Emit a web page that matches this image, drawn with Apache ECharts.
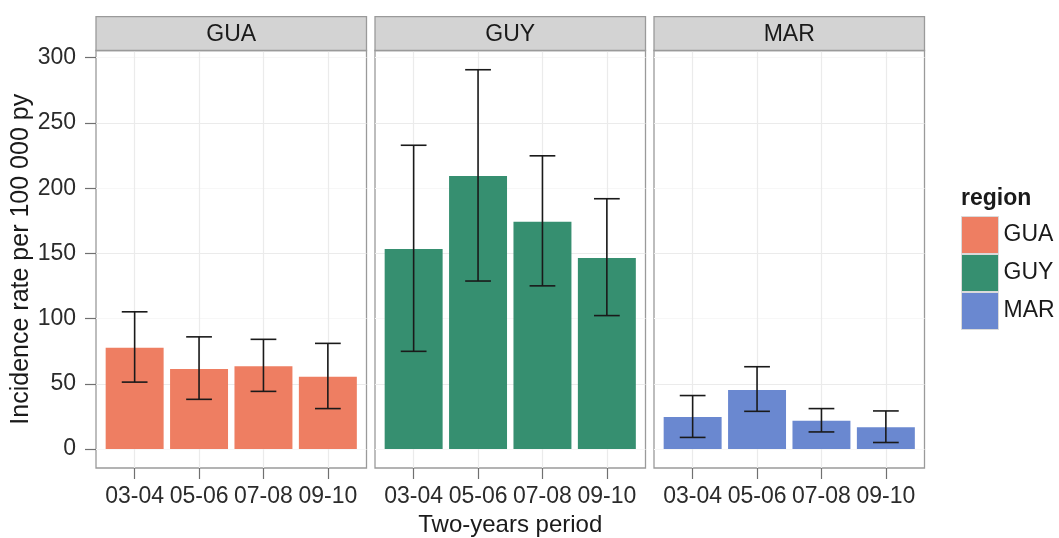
<!DOCTYPE html>
<html><head><meta charset="utf-8">
<script src="https://cdn.jsdelivr.net/npm/echarts@6/dist/echarts.min.js"></script>
<style>html,body{margin:0;padding:0;background:#fff}#c{width:1059px;height:538px}</style>
</head><body><div id="c"></div>
<script>
// ---- data ----
const periods = ['03-04', '05-06', '07-08', '09-10'];
const regions = ['GUA', 'GUY', 'MAR'];
const guaRate = [77.6, 61.3, 63.4, 55.5];
const guaLow  = [51.3, 38.1, 44.2, 31.0];
const guaHigh = [105.2, 86.0, 84.1, 81.0];
const guyRate = [153.3, 209.3, 174.3, 146.4];
const guyLow  = [74.9, 128.8, 125.1, 102.3];
const guyHigh = [232.9, 290.8, 224.8, 191.9];
const marRate = [24.5, 45.2, 21.6, 16.6];
const marLow  = [8.9, 28.9, 13.1, 5.0];
const marHigh = [41.0, 63.1, 31.0, 29.2];
const yTicks = [0, 50, 100, 150, 200, 250, 300];
const xPos = [1, 2, 3, 4];
const regionColors = ['#EE7E62', '#368F70', '#6A88D0'];

const rates = [guaRate, guyRate, marRate];
const lows = [guaLow, guyLow, marLow];
const highs = [guaHigh, guyHigh, marHigh];

const FONT = 'Liberation Sans';
const panelLeft = [96, 375, 654], panelW = 270.5, panelTop = 50.5, panelH = 417.5;
const stripTop = 16.7;

const chart = echarts.init(document.getElementById('c'));

const grids = regions.map((r, i) => ({
  left: panelLeft[i], top: panelTop, width: panelW, height: panelH,
  containLabel: false, outerBoundsMode: 'none',
  show: true, borderColor: '#9A9A9A', borderWidth: 1.3, backgroundColor: '#fff'
}));

const xAxes = regions.map((r, i) => ({
  type: 'value', gridIndex: i, min: 0.4, max: 4.6, minInterval: 1, maxInterval: 1,
  position: 'bottom',
  axisLine: { show: false, onZero: false },
  axisTick: { show: true, inside: false, customValues: xPos, length: 11, lineStyle: { color: '#707070', width: 1.2 } },
  axisLabel: { customValues: xPos, formatter: v => periods[Math.round(v) - 1] || '',
    fontSize: 23, color: '#2b2b2b', fontFamily: FONT, margin: 17 },
  splitLine: { show: true, lineStyle: { color: '#EBEBEB', width: 1.2 } },
  name: i === 1 ? 'Two-years period' : '', nameLocation: 'middle', nameGap: 43,
  nameTextStyle: { fontSize: 24, color: '#1a1a1a', fontFamily: FONT }
}));

const yAxes = regions.map((r, i) => ({
  type: 'value', gridIndex: i, min: -14.55, max: 305.55, minInterval: 25, maxInterval: 25,
  position: 'left',
  axisLine: { show: false, onZero: false },
  axisTick: { show: i === 0, inside: false, customValues: yTicks, length: 11, lineStyle: { color: '#707070', width: 1.2 } },
  axisLabel: { show: i === 0, customValues: yTicks, formatter: v => String(v),
    fontSize: 23, color: '#2b2b2b', fontFamily: FONT, margin: 20 },
  splitLine: { show: true, lineStyle: { color: ['#F7F7F7', '#EBEBEB'], width: 1.2 } },
  name: i === 0 ? 'Incidence rate per 100 000 py' : '', nameLocation: 'middle', nameGap: 59,
  nameTextStyle: { fontSize: 25, color: '#1a1a1a', fontFamily: FONT }
}));

const series = [];
regions.forEach((r, i) => {
  series.push({
    type: 'bar', name: r, xAxisIndex: i, yAxisIndex: i, barWidth: '90%',
    data: xPos.map((x, j) => [x, rates[i][j]]),
    itemStyle: { color: regionColors[i] }, z: 2
  });
  series.push({
    type: 'custom', name: r + ' CI', xAxisIndex: i, yAxisIndex: i, z: 3,
    data: xPos.map((x, j) => [x, lows[i][j], highs[i][j]]),
    encode: { x: 0, y: [1, 2] },
    renderItem: (params, api) => {
      const x = api.value(0), lo = api.value(1), hi = api.value(2);
      const pt = api.coord([x, hi]), pb = api.coord([x, lo]);
      const half = api.size([0.2, 0])[0];
      const st = { stroke: '#1a1a1a', lineWidth: 1.6 };
      return { type: 'group', children: [
        { type: 'line', shape: { x1: pt[0], y1: pt[1], x2: pb[0], y2: pb[1] }, style: st },
        { type: 'line', shape: { x1: pt[0] - half, y1: pt[1], x2: pt[0] + half, y2: pt[1] }, style: st },
        { type: 'line', shape: { x1: pb[0] - half, y1: pb[1], x2: pb[0] + half, y2: pb[1] }, style: st }
      ]};
    }
  });
});

const graphics = [];
regions.forEach((r, i) => {
  graphics.push({ type: 'rect', shape: { x: panelLeft[i], y: stripTop, width: panelW, height: panelTop - stripTop },
    style: { fill: '#D3D3D3', stroke: '#9A9A9A', lineWidth: 1.3 }, z: 10 });
  graphics.push({ type: 'text', x: panelLeft[i] + panelW / 2, y: (stripTop + panelTop) / 2 + 1,
    style: { text: r, font: '23px "Liberation Sans"', fill: '#1a1a1a', textAlign: 'center', textVerticalAlign: 'middle' }, z: 11 });
});
graphics.push({ type: 'text', x: 961, y: 199,
  style: { text: 'region', font: 'bold 23px "Liberation Sans"', fill: '#1a1a1a', textAlign: 'left', textVerticalAlign: 'middle' } });

chart.setOption({
  animation: false,
  backgroundColor: '#fff',
  grid: grids, xAxis: xAxes, yAxis: yAxes, series: series,
  legend: { data: regions, orient: 'vertical', left: 961, top: 216, padding: 0, itemWidth: 37, itemHeight: 37, itemGap: 0,
    icon: 'rect', textStyle: { fontSize: 23, color: '#1a1a1a', fontFamily: FONT },
    itemStyle: { borderColor: '#DADADA', borderWidth: 1 } },
  graphic: graphics
});
</script></body></html>
